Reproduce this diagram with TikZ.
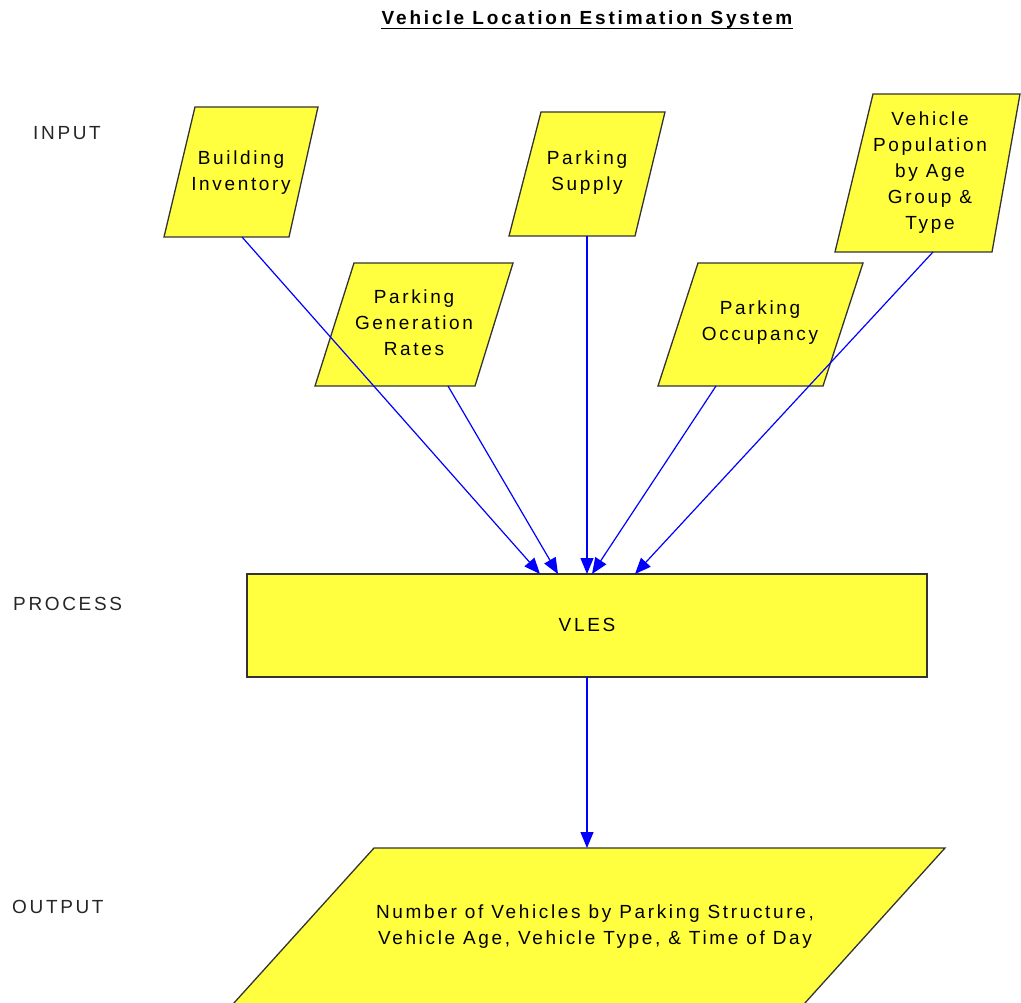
\documentclass[tikz,border=0pt]{standalone}
\usepackage{fontspec}
\setmainfont{Liberation Sans}
\newfontfamily\boxfont[LetterSpace=14]{Liberation Sans}
\newfontfamily\titlefont[LetterSpace=15]{Liberation Sans}
\usetikzlibrary{arrows.meta}
\definecolor{boxyellow}{RGB}{255,255,64}
\definecolor{flowblue}{RGB}{0,0,255}
\begin{document}
\begin{tikzpicture}[x=1pt,y=-1pt,
  databox/.style={draw=black!80, fill=boxyellow, line width=1.3pt},
  flow/.style={draw=flowblue, line width=1.2pt, -{Triangle[length=16pt,width=13pt]}},
  txt/.style={font=\boxfont\fontsize{19}{26}\selectfont, align=center, inner sep=0pt},
  stagelabel/.style={font=\boxfont\fontsize{19}{22}\selectfont, text=black!85, anchor=west, inner sep=0pt}]
\useasboundingbox (0,0) rectangle (1021,1003);
\clip (0,0) rectangle (1021,1003);

% title
\node [font=\titlefont\bfseries\fontsize{19}{22}\selectfont, inner sep=0pt] (title) at (587,20) {Vehicle Location Estimation System};
\draw [line width=1.8pt] ([yshift=-3.5pt]title.base west) -- ([yshift=-3.5pt]title.base east);

% stages
\node [stagelabel] (input) at (33,133) {INPUT};
\node [stagelabel] (process) at (13,604) {PROCESS};
\node [stagelabel] (output) at (12,907) {OUTPUT};

% input boxes
\draw [databox] (195,107) -- (318,107) -- (289,237) -- (164,237) -- cycle;
\node [txt] (bi) at (241,173) {Building\\Inventory};

\draw [databox] (541,112) -- (665,112) -- (635,236) -- (509,236) -- cycle;
\node [txt] (ps) at (587,173) {Parking\\Supply};

\draw [databox] (873,94) -- (1020,94) -- (992,252) -- (835,252) -- cycle;
\node [txt] (vp) at (930,173) {Vehicle\\Population\\by Age\\Group \&\\Type};

\draw [databox] (354,263) -- (513,263) -- (475,386) -- (315,386) -- cycle;
\node [txt] (pg) at (414,323) {Parking\\Generation\\Rates};

\draw [databox] (698,263) -- (863,263) -- (823,386) -- (658,386) -- cycle;
\node [txt] (po) at (760,323) {Parking\\Occupancy};

% process
\draw [databox] (247,574) rectangle (927,677);
\node [txt] (vles) at (587,625) {VLES};

% output
\draw [databox] (374,848) -- (945,848) -- (789.6,1020) -- (218.6,1020) -- cycle;
\node [txt] (out) at (595,927) {Number of Vehicles by Parking Structure,\\Vehicle Age, Vehicle Type, \& Time of Day};

% arrows
\coordinate (bi-out) at (242,237);
\coordinate (pg-out) at (448,386);
\coordinate (ps-out) at (587,236);
\coordinate (po-out) at (716,386);
\coordinate (vp-out) at (933,252);
\coordinate (in1) at (540,574);
\coordinate (in2) at (558,574);
\coordinate (in3) at (587,574);
\coordinate (in4) at (592,574);
\coordinate (in5) at (635,574);
\coordinate (vles-out) at (587,677);
\coordinate (out-in) at (587,848);

\draw [flow] (bi-out) -- (in1);
\draw [flow] (pg-out) -- (in2);
\draw [flow] (ps-out) -- (in3);
\draw [flow] (po-out) -- (in4);
\draw [flow] (vp-out) -- (in5);
\draw [flow] (vles-out) -- (out-in);

\end{tikzpicture}
\end{document}
